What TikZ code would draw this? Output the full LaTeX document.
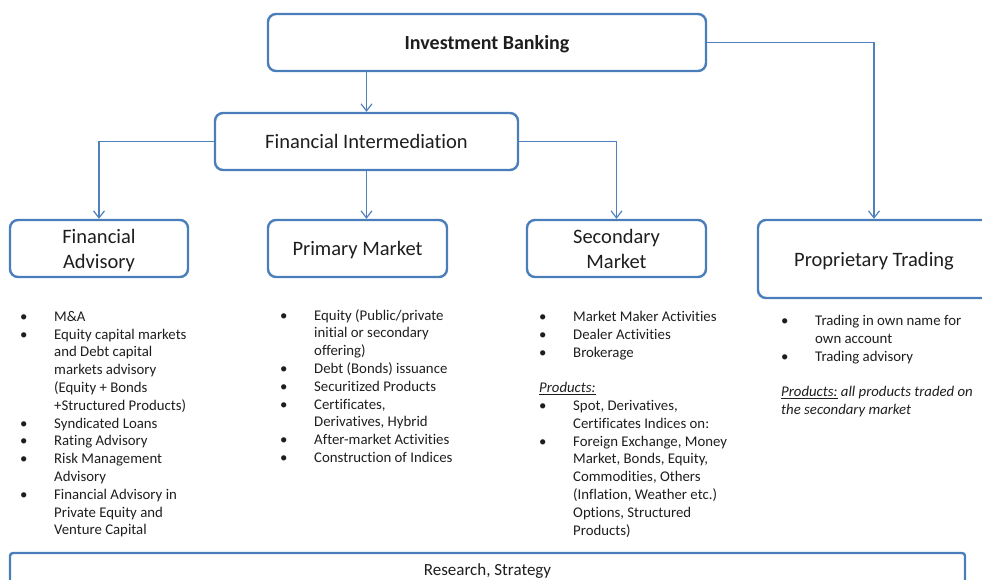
\documentclass[tikz,border=0pt]{standalone}
\usepackage{fontspec}
\setmainfont[Ligatures=NoCommon]{Carlito}
\usetikzlibrary{arrows.meta}
\definecolor{boxblue}{RGB}{74,126,187}
\definecolor{lineblue}{RGB}{79,129,189}
\definecolor{txtgray}{RGB}{30,30,30}
\newcommand{\bul}{\makebox[34pt][l]{\textbullet}}
\newcommand{\ind}{\hspace*{34pt}}
\begin{document}
\begin{tikzpicture}[x=1pt,y=-1pt,every node/.style={text=txtgray},
	box/.style={draw=boxblue,line width=2.4pt,rounded corners=8pt,align=center,
	text depth=0pt,font=\fontsize{20.5}{25}\selectfont},
	list/.style={anchor=north west,align=left,inner sep=0pt,
	font=\fontsize{14.8}{17.8}\selectfont},
	arr/.style={draw=lineblue,line width=1.2pt,-{Straight Barb[length=7pt,width=11pt]}}]
\clip (0,0) rectangle (982,579);
% boxes
\node[box,minimum width=438pt,minimum height=57pt,font=\fontsize{20}{22}\selectfont\bfseries] (ib) at (487,42.5) {Investment Banking};
\node[box,minimum width=303pt,minimum height=57pt] (fi) at (366.5,141.5) {Financial Intermediation};
\node[box,minimum width=178pt,minimum height=57pt] (fa) at (99,248.5) {Financial\\Advisory};
\node[box,minimum width=179pt,minimum height=57pt] (pm) at (357.5,248.5) {Primary Market};
\node[box,minimum width=179pt,minimum height=57pt] (sm) at (616.5,248.5) {Secondary\\Market};
\node[box,minimum width=232pt,minimum height=78pt] (pt) at (874,259) {Proprietary Trading};
\node[box,rounded corners=3pt,minimum width=955pt,minimum height=34pt,font=\fontsize{17}{19}\selectfont] (rs) at (487.5,570) {Research, Strategy};
% connectors
\draw[arr] (ib.south -| fi.north) -- (fi.north);
\draw[arr] (fi.west) -| (fa.north);
\draw[arr] (fi.south) -- (fi.south |- pm.north);
\draw[arr] (fi.east) -| (sm.north);
\draw[arr] (ib.east) -| (pt.north);
% lists
\node[list] (falist) at (20,311) {\bul M\&A\\
	\bul Equity capital markets\\
	\ind and Debt capital\\
	\ind markets advisory\\
	\ind (Equity + Bonds\\
	\ind +Structured Products)\\
	\bul Syndicated Loans\\
	\bul Rating Advisory\\
	\bul Risk Management\\
	\ind Advisory\\
	\bul Financial Advisory in\\
	\ind Private Equity and\\
	\ind Venture Capital};
\node[list] (pmlist) at (280,309) {\bul Equity (Public/private\\
	\ind initial or secondary\\
	\ind offering)\\
	\bul Debt (Bonds) issuance\\
	\bul Securitized Products\\
	\bul Certificates,\\
	\ind Derivatives, Hybrid\\
	\bul After-market Activities\\
	\bul Construction of Indices};
\node[list] (smlist) at (539,311) {\bul Market Maker Activities\\
	\bul Dealer Activities\\
	\bul Brokerage\\[17.8pt]
	\underline{\textit{Products:}}\\
	\bul Spot, Derivatives,\\
	\ind Certificates Indices on:\\
	\bul Foreign Exchange, Money\\
	\ind Market, Bonds, Equity,\\
	\ind Commodities, Others\\
	\ind (Inflation, Weather etc.)\\
	\ind Options, Structured\\
	\ind Products)};
\node[list] (ptlist) at (781,315) {\bul Trading in own name for\\
	\ind own account\\
	\bul Trading advisory\\[17.8pt]
	\textit{\underline{Products:} all products traded on}\\
	\textit{the secondary market}};
\end{tikzpicture}
\end{document}
